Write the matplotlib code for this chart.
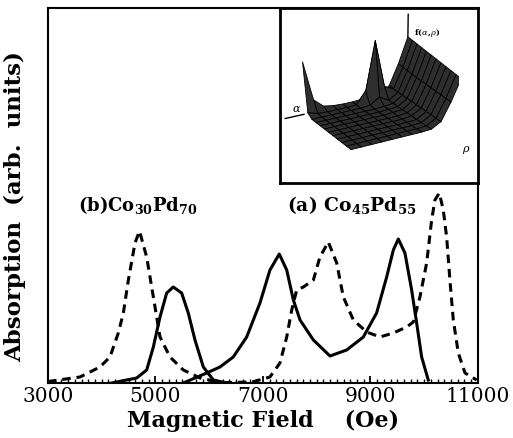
import matplotlib
matplotlib.use("Agg")
import matplotlib.pyplot as plt
import numpy as np
from matplotlib.ticker import MultipleLocator

plt.rcParams['font.family'] = 'DejaVu Serif'
plt.rcParams['mathtext.fontset'] = 'dejavuserif'

# (b) Co30Pd70, dashed
fieldB_dash = [3000, 3595, 3967, 4153, 4308, 4402, 4495, 4619, 4702, 4836, 4960,
               5084, 5270, 5518, 5828, 6200, 6500]
absB_dash = [1.5, 6, 16, 26, 50, 70, 103, 140, 152, 126, 86,
             46, 26, 13, 5, 0.5, 0]
# (b) Co30Pd70, solid
fieldB_solid = [4185, 4650, 4836, 4960, 5084, 5208, 5331, 5487, 5610, 5735, 5890,
                6076, 6324]
absB_solid = [0, 5, 13, 36, 66, 90, 96, 90, 70, 43, 16, 3, 0]
# (a) Co45Pd55, solid
fieldA_solid = [5518, 5952, 6200, 6447, 6572, 6697, 6944, 7130, 7303, 7442, 7566,
                7690, 7938, 8247, 8558, 8868, 9115, 9302, 9426, 9519, 9642,
                9767, 9860, 9953, 10076]
absA_solid = [0, 10, 16, 26, 36, 46, 80, 113, 129, 113, 83,
              63, 43, 27, 33, 46, 70, 106, 133, 144, 130,
              93, 60, 26, 3]
# (a) Co45Pd55, dashed
fieldA_dash = [6000, 6800, 7130, 7316, 7442, 7535, 7628, 7752, 7938, 8060, 8216,
               8372, 8496, 8682, 8930, 9177, 9426, 9674, 9798, 9921, 10046,
               10139, 10200, 10281, 10356, 10418, 10479, 10542, 10635, 10760, 10977]
absA_dash = [0, 1, 6, 20, 46, 73, 93, 96, 103, 126, 141,
             120, 86, 63, 51, 46, 50, 56, 61, 86, 120,
             163, 183, 190, 173, 146, 103, 63, 30, 10, 3]

xticks = [3000, 5000, 7000, 9000, 11000]

# inset surface f(alpha, rho): rows = alpha, columns = rho
surf_f = [
    [1.00, 0.98, 0.96, 0.94, 0.92, 0.90, 0.88, 0.86, 0.84, 0.82, 0.80, 0.78],
    [0.55, 0.53, 0.52, 0.50, 0.49, 0.48, 0.47, 0.46, 0.45, 0.44, 0.43, 0.42],
    [0.18, 0.17, 0.16, 0.16, 0.15, 0.15, 0.14, 0.14, 0.13, 0.13, 0.12, 0.12],
    [0.06, 0.25, 0.05, 0.05, 0.04, 0.04, 0.04, 0.04, 0.03, 0.03, 0.03, 0.03],
    [0.15, 1.10, 0.15, 0.03, 0.03, 0.03, 0.02, 0.02, 0.02, 0.02, 0.02, 0.02],
    [0.04, 0.25, 0.04, 0.02, 0.02, 0.02, 0.02, 0.02, 0.02, 0.02, 0.02, 0.02],
    [0.03, 0.03, 0.02, 0.02, 0.02, 0.02, 0.02, 0.02, 0.02, 0.02, 0.02, 0.02],
    [0.03, 0.02, 0.02, 0.02, 0.02, 0.02, 0.02, 0.02, 0.02, 0.02, 0.02, 0.02],
    [0.04, 0.02, 0.02, 0.02, 0.02, 0.02, 0.02, 0.02, 0.02, 0.02, 0.02, 0.02],
    [0.07, 0.02, 0.02, 0.02, 0.02, 0.02, 0.02, 0.02, 0.02, 0.02, 0.02, 0.02],
    [0.22, 0.03, 0.02, 0.02, 0.02, 0.02, 0.02, 0.02, 0.02, 0.02, 0.02, 0.02],
    [0.92, 0.08, 0.02, 0.02, 0.02, 0.02, 0.02, 0.02, 0.02, 0.02, 0.02, 0.02],
]

fig = plt.figure(figsize=(5.13, 4.38), dpi=100)
ax = fig.add_axes([0.0936, 0.1256, 0.838, 0.856])

ax.plot(fieldB_dash, absB_dash, color='black', lw=2.2, dashes=(2.8, 1.9))
ax.plot(fieldB_solid, absB_solid, color='black', lw=2.2)
ax.plot(fieldA_solid, absA_solid, color='black', lw=2.2)
ax.plot(fieldA_dash, absA_dash, color='black', lw=2.2, dashes=(2.8, 1.9))

ax.set_xlim(3000, 11000)
ax.set_ylim(0, 375)
ax.set_xticks(xticks)
ax.xaxis.set_minor_locator(MultipleLocator(125))
ax.set_yticks([])
ax.tick_params(axis='x', which='major', direction='in', length=5, width=1.3,
               labelsize=14.5, pad=3)
ax.tick_params(axis='x', which='minor', direction='in', length=3, width=1)
for s in ax.spines.values():
    s.set_linewidth(1.5)

ax.set_xlabel('Magnetic Field    (Oe)', fontsize=16, fontweight='bold', labelpad=3)
ax.set_ylabel('Absorption  (arb.  units)', fontsize=16.5, fontweight='bold')
ax.yaxis.set_label_coords(-0.05, 0.47)

ax.text(3560, 178, r'(b)Co$_{\mathbf{30}}$Pd$_{\mathbf{70}}$', fontsize=13,
        fontweight='bold', va='center')
ax.text(7450, 178, r'(a) Co$_{\mathbf{45}}$Pd$_{\mathbf{55}}$', fontsize=13.5,
        fontweight='bold', va='center')

# inset frame
rect = [280 / 513, 1 - 183 / 438, 198 / 513, 175 / 438]
frame = fig.add_axes(rect)
frame.set_xticks([])
frame.set_yticks([])
for s in frame.spines.values():
    s.set_linewidth(2)

ax3 = fig.add_axes([rect[0] - 0.048, rect[1] + 0.005, rect[2] + 0.05, rect[3] + 0.02],
                   projection='3d')
ax3.patch.set_alpha(0)
Z = np.array(surf_f)
A, R = np.meshgrid(np.linspace(0, 1, Z.shape[0]), np.linspace(0, 1, Z.shape[1]),
                   indexing='ij')
ax3.plot_surface(A, R, Z, color='0.18', edgecolor='black', linewidth=0.6,
                 shade=False, rstride=1, cstride=1)
ax3.plot([1, 1.17], [0, 0], [0, 0], color='black', lw=1)
ax3.plot([0, 0], [1, 1.5], [0, 0], color='black', lw=1)
ax3.plot([0, 0], [0, 0], [1.0, 1.4], color='black', lw=1)
ax3.view_init(elev=22, azim=60)
ax3.set_xlim(0, 1.35)
ax3.set_ylim(0, 1.3)
ax3.set_zlim(0, 1.45)
ax3.set_box_aspect((1.3, 1.0, 0.7), zoom=1.25)
ax3.set_axis_off()

fig.text(414 / 513, 1 - 35 / 438, r'f($\alpha$,$\rho$)', fontsize=6, fontweight='bold')
fig.text(292 / 513, 1 - 112 / 438, r'$\alpha$', fontsize=8)
fig.text(462 / 513, 1 - 152 / 438, r'$\rho$', fontsize=8)

fig.savefig('out.png', dpi=100)
